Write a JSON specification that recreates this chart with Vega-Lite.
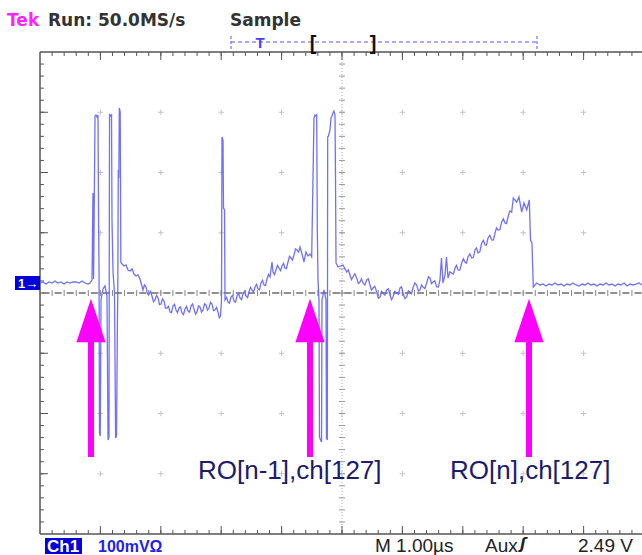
{
"$schema": "https://vega.github.io/schema/vega-lite/v6.json",
"width": 642, "height": 555, "padding": 0, "autosize": {"type": "none"},
"background": "white",
"config": {"view": {"stroke": null}},
"data": {"values": [{}]},
"datasets": {
"minorT": [{"t":0.2},{"t":0.4},{"t":0.6},{"t":0.8},{"t":1},{"t":1.2},{"t":1.4},{"t":1.6},{"t":1.8},{"t":2},{"t":2.2},{"t":2.4},{"t":2.6},{"t":2.8},{"t":3},{"t":3.2},{"t":3.4},{"t":3.6},{"t":3.8},{"t":4},{"t":4.2},{"t":4.4},{"t":4.6},{"t":4.8},{"t":5},{"t":5.2},{"t":5.4},{"t":5.6},{"t":5.8},{"t":6},{"t":6.2},{"t":6.4},{"t":6.6},{"t":6.8},{"t":7},{"t":7.2},{"t":7.4},{"t":7.6},{"t":7.8},{"t":8},{"t":8.2},{"t":8.4},{"t":8.6},{"t":8.8},{"t":9},{"t":9.2},{"t":9.4},{"t":9.6},{"t":9.8}],
"majorT": [{"t":1},{"t":2},{"t":3},{"t":4},{"t":5},{"t":6},{"t":7},{"t":8},{"t":9}],
"minorV": [{"v":-3.8},{"v":-3.6},{"v":-3.4},{"v":-3.2},{"v":-3},{"v":-2.8},{"v":-2.6},{"v":-2.4},{"v":-2.2},{"v":-2},{"v":-1.8},{"v":-1.6},{"v":-1.4},{"v":-1.2},{"v":-1},{"v":-0.8},{"v":-0.6},{"v":-0.4},{"v":-0.2},{"v":0},{"v":0.2},{"v":0.4},{"v":0.6},{"v":0.8},{"v":1},{"v":1.2},{"v":1.4},{"v":1.6},{"v":1.8},{"v":2},{"v":2.2},{"v":2.4},{"v":2.6},{"v":2.8},{"v":3},{"v":3.2},{"v":3.4},{"v":3.6},{"v":3.8}],
"majorV": [{"v":-3},{"v":-2},{"v":-1},{"v":1},{"v":2},{"v":3}],
"grid": [{"t":1,"v":[-3,-2,-1,0,1,2,3]},{"t":2,"v":[-3,-2,-1,0,1,2,3]},{"t":3,"v":[-3,-2,-1,0,1,2,3]},{"t":4,"v":[-3,-2,-1,0,1,2,3]},{"t":5,"v":[-3,-2,-1,0,1,2,3]},{"t":6,"v":[-3,-2,-1,0,1,2,3]},{"t":7,"v":[-3,-2,-1,0,1,2,3]},{"t":8,"v":[-3,-2,-1,0,1,2,3]},{"t":9,"v":[-3,-2,-1,0,1,2,3]}],
"wave": [
{"t":0.000,"v":0.166},{"t":0.050,"v":0.183},{"t":0.099,"v":0.149},{"t":0.149,"v":0.183},{"t":0.199,"v":0.166},{"t":0.248,"v":0.199},{"t":0.298,"v":0.166},{"t":0.348,"v":0.183},{"t":0.397,"v":0.149},{"t":0.447,"v":0.183},{"t":0.497,"v":0.166},{"t":0.546,"v":0.183},{"t":0.596,"v":0.183},{"t":0.646,"v":0.166},{"t":0.695,"v":0.199},{"t":0.745,"v":0.166},{"t":0.795,"v":0.149},
{"t":0.828,"v":0.166},{"t":0.861,"v":0.216},{"t":0.877,"v":1.660},{"t":0.887,"v":0.232},{"t":0.911,"v":2.938},{"t":0.927,"v":2.954},{"t":0.944,"v":2.921},{"t":0.960,"v":2.954},{"t":0.970,"v":1.178},{"t":0.977,"v":0.415},{"t":0.985,"v":-2.324},{"t":0.998,"v":-2.373},{"t":1.010,"v":-0.116},{"t":1.043,"v":0.066},{"t":1.076,"v":0.116},{"t":1.109,"v":-0.050},{"t":1.126,"v":-2.440},{"t":1.142,"v":-2.390},{"t":1.151,"v":2.971},{"t":1.167,"v":2.938},{"t":1.184,"v":2.954},{"t":1.192,"v":1.212},{"t":1.209,"v":0.349},{"t":1.233,"v":0.017},{"t":1.252,"v":-2.407},{"t":1.267,"v":-2.373},{"t":1.280,"v":-0.647},{"t":1.288,"v":0.050},{"t":1.296,"v":2.042},{"t":1.305,"v":1.909},{"t":1.313,"v":3.071},{"t":1.328,"v":3.004},{"t":1.338,"v":0.515},{"t":1.358,"v":0.481},{"t":1.391,"v":0.448},{"t":1.424,"v":0.465},{"t":1.457,"v":0.382},{"t":1.490,"v":0.365},{"t":1.523,"v":0.398},{"t":1.556,"v":0.315},{"t":1.589,"v":0.282},{"t":1.622,"v":0.299},{"t":1.656,"v":0.232},
{"t":1.705,"v":0.050},{"t":1.730,"v":0.135},{"t":1.755,"v":0.100},{"t":1.780,"v":-0.018},{"t":1.805,"v":-0.017},{"t":1.830,"v":0.026},{"t":1.854,"v":-0.050},{"t":1.879,"v":-0.143},{"t":1.904,"v":-0.116},{"t":1.929,"v":-0.040},{"t":1.954,"v":-0.083},{"t":1.979,"v":-0.193},{"t":2.003,"v":-0.183},{"t":2.028,"v":-0.098},{"t":2.053,"v":-0.133},{"t":2.078,"v":-0.251},{"t":2.103,"v":-0.249},{"t":2.128,"v":-0.222},{"t":2.152,"v":-0.315},{"t":2.177,"v":-0.326},{"t":2.202,"v":-0.216},{"t":2.227,"v":-0.189},{"t":2.252,"v":-0.282},{"t":2.277,"v":-0.326},{"t":2.301,"v":-0.249},{"t":2.326,"v":-0.231},{"t":2.351,"v":-0.332},{"t":2.376,"v":-0.359},{"t":2.401,"v":-0.266},{"t":2.426,"v":-0.223},{"t":2.450,"v":-0.299},{"t":2.475,"v":-0.318},{"t":2.500,"v":-0.216},{"t":2.525,"v":-0.181},{"t":2.550,"v":-0.266},{"t":2.575,"v":-0.351},{"t":2.599,"v":-0.315},{"t":2.624,"v":-0.214},{"t":2.649,"v":-0.232},{"t":2.674,"v":-0.317},{"t":2.699,"v":-0.282},{"t":2.724,"v":-0.181},{"t":2.748,"v":-0.199},{"t":2.773,"v":-0.284},{"t":2.798,"v":-0.249},{"t":2.823,"v":-0.156},{"t":2.848,"v":-0.183},{"t":2.873,"v":-0.293},{"t":2.897,"v":-0.282},{"t":2.922,"v":-0.239},{"t":2.947,"v":-0.315},{"t":2.968,"v":-0.409},{"t":2.988,"v":-0.382},{"t":3.005,"v":-0.116},{"t":3.013,"v":2.589},{"t":3.030,"v":2.539},{"t":3.038,"v":1.411},{"t":3.055,"v":1.378},{"t":3.063,"v":-0.116},{"t":3.088,"v":-0.073},{"t":3.113,"v":-0.149},{"t":3.138,"v":-0.168},{"t":3.162,"v":-0.066},{"t":3.187,"v":-0.040},{"t":3.212,"v":-0.133},{"t":3.237,"v":-0.152},{"t":3.262,"v":-0.050},{"t":3.287,"v":-0.007},{"t":3.311,"v":-0.083},{"t":3.336,"v":-0.110},{"t":3.361,"v":-0.017},{"t":3.386,"v":0.026},{"t":3.411,"v":-0.050},{"t":3.436,"v":-0.077},{"t":3.460,"v":0.017},{"t":3.485,"v":0.094},{"t":3.510,"v":0.050},{"t":3.535,"v":0.015},{"t":3.560,"v":0.100},{"t":3.585,"v":0.143},{"t":3.609,"v":0.066},{"t":3.634,"v":0.056},{"t":3.659,"v":0.166},{"t":3.684,"v":0.210},{"t":3.709,"v":0.133},{"t":3.734,"v":0.123},{"t":3.758,"v":0.232},{"t":3.783,"v":0.309},{"t":3.808,"v":0.266},{"t":3.841,"v":0.515},{"t":3.858,"v":0.349},{"t":3.883,"v":0.306},{"t":3.907,"v":0.382},{"t":3.932,"v":0.459},{"t":3.957,"v":0.415},{"t":3.982,"v":0.372},{"t":4.007,"v":0.448},{"t":4.032,"v":0.492},{"t":4.056,"v":0.415},{"t":4.081,"v":0.405},{"t":4.106,"v":0.515},{"t":4.131,"v":0.608},{"t":4.156,"v":0.581},{"t":4.181,"v":0.546},{"t":4.205,"v":0.631},{"t":4.230,"v":0.733},{"t":4.255,"v":0.714},{"t":4.280,"v":0.679},{"t":4.305,"v":0.764},{"t":4.338,"v":0.647},{"t":4.371,"v":0.515},{"t":4.404,"v":0.681},{"t":4.437,"v":0.614},{"t":4.470,"v":0.647},{"t":4.498,"v":0.598},
{"t":4.520,"v":1.925},{"t":4.536,"v":2.905},{"t":4.553,"v":2.954},{"t":4.569,"v":2.938},{"t":4.581,"v":2.954},{"t":4.591,"v":1.046},{"t":4.603,"v":0.216},{"t":4.619,"v":-0.116},{"t":4.627,"v":-2.390},{"t":4.644,"v":-2.440},{"t":4.661,"v":-2.473},{"t":4.669,"v":-0.116},{"t":4.702,"v":0.050},{"t":4.735,"v":-0.116},{"t":4.743,"v":-2.407},{"t":4.757,"v":-2.440},{"t":4.763,"v":2.589},{"t":4.776,"v":2.606},{"t":4.801,"v":2.705},{"t":4.818,"v":2.905},{"t":4.834,"v":2.938},{"t":4.856,"v":3.004},{"t":4.867,"v":3.021},{"t":4.884,"v":2.954},{"t":4.892,"v":1.992},{"t":4.901,"v":0.498},{"t":4.934,"v":0.432},
{"t":4.967,"v":0.448},{"t":5.017,"v":0.465},{"t":5.078,"v":0.349},{"t":5.105,"v":0.384},{"t":5.132,"v":0.299},{"t":5.157,"v":0.223},{"t":5.182,"v":0.266},{"t":5.213,"v":0.318},{"t":5.243,"v":0.249},{"t":5.271,"v":0.156},{"t":5.298,"v":0.183},{"t":5.323,"v":0.235},{"t":5.348,"v":0.166},{"t":5.379,"v":0.131},{"t":5.409,"v":0.216},{"t":5.436,"v":0.235},{"t":5.463,"v":0.133},{"t":5.488,"v":0.048},{"t":5.513,"v":0.083},{"t":5.544,"v":0.110},{"t":5.574,"v":0.017},{"t":5.602,"v":-0.085},{"t":5.629,"v":-0.066},{"t":5.654,"v":0.027},{"t":5.679,"v":0},{"t":5.710,"v":-0.035},{"t":5.740,"v":0.050},{"t":5.768,"v":0.069},{"t":5.795,"v":-0.033},{"t":5.820,"v":-0.110},{"t":5.844,"v":-0.066},{"t":5.875,"v":0.027},{"t":5.906,"v":0},{"t":5.933,"v":-0.018},{"t":5.960,"v":0.083},{"t":5.985,"v":0.102},{"t":6.010,"v":0},{"t":6.041,"v":-0.093},{"t":6.071,"v":-0.066},{"t":6.099,"v":0.035},{"t":6.126,"v":0.017},{"t":6.151,"v":-0.010},{"t":6.175,"v":0.083},{"t":6.206,"v":0.168},{"t":6.237,"v":0.133},{"t":6.264,"v":0.032},{"t":6.291,"v":0.050},{"t":6.316,"v":0.135},{"t":6.341,"v":0.100},{"t":6.372,"v":0.073},{"t":6.402,"v":0.166},{"t":6.430,"v":0.268},{"t":6.457,"v":0.249},{"t":6.482,"v":0.156},{"t":6.506,"v":0.183},{"t":6.537,"v":0.202},{"t":6.568,"v":0.100},{"t":6.595,"v":0.098},{"t":6.622,"v":0.216},{"t":6.647,"v":0.581},{"t":6.672,"v":0.166},{"t":6.705,"v":0.299},{"t":6.730,"v":0.598},{"t":6.755,"v":0.249},{"t":6.786,"v":0.351},{"t":6.816,"v":0.332},{"t":6.844,"v":0.314},{"t":6.871,"v":0.415},{"t":6.896,"v":0.459},{"t":6.920,"v":0.382},{"t":6.951,"v":0.380},{"t":6.982,"v":0.498},{"t":7.009,"v":0.567},{"t":7.036,"v":0.515},{"t":7.061,"v":0.497},{"t":7.086,"v":0.598},{"t":7.117,"v":0.650},{"t":7.147,"v":0.581},{"t":7.175,"v":0.588},{"t":7.202,"v":0.714},{"t":7.227,"v":0.749},{"t":7.251,"v":0.664},{"t":7.282,"v":0.687},{"t":7.313,"v":0.830},{"t":7.340,"v":0.874},{"t":7.367,"v":0.797},{"t":7.392,"v":0.795},{"t":7.417,"v":0.913},{"t":7.448,"v":0.957},{"t":7.478,"v":0.880},{"t":7.506,"v":0.878},{"t":7.533,"v":0.996},{"t":7.558,"v":1.081},{"t":7.583,"v":1.046},{"t":7.614,"v":1.052},{"t":7.644,"v":1.178},{"t":7.672,"v":1.230},{"t":7.699,"v":1.162},{"t":7.724,"v":1.152},{"t":7.748,"v":1.261},{"t":7.779,"v":1.363},{"t":7.809,"v":1.344},{"t":7.836,"v":1.577},{"t":7.892,"v":1.510},{"t":7.930,"v":1.593},{"t":7.975,"v":1.344},{"t":8.013,"v":1.494},{"t":8.058,"v":1.378},{"t":8.101,"v":1.544},{"t":8.121,"v":0.880},{"t":8.145,"v":0.830},{"t":8.167,"v":0.100},{"t":8.223,"v":0.166},
{"t":8.278,"v":0.133},{"t":8.328,"v":0.149},{"t":8.377,"v":0.116},{"t":8.427,"v":0.149},{"t":8.477,"v":0.133},{"t":8.526,"v":0.166},{"t":8.576,"v":0.133},{"t":8.626,"v":0.149},{"t":8.675,"v":0.116},{"t":8.725,"v":0.149},{"t":8.775,"v":0.133},{"t":8.824,"v":0.166},{"t":8.874,"v":0.133},{"t":8.924,"v":0.116},{"t":8.973,"v":0.149},{"t":9.023,"v":0.133},{"t":9.073,"v":0.166},{"t":9.122,"v":0.133},{"t":9.172,"v":0.149},{"t":9.222,"v":0.116},{"t":9.272,"v":0.149},{"t":9.321,"v":0.133},{"t":9.371,"v":0.166},{"t":9.421,"v":0.133},{"t":9.470,"v":0.149},{"t":9.520,"v":0.116},{"t":9.570,"v":0.149},{"t":9.619,"v":0.133},{"t":9.669,"v":0.166},{"t":9.719,"v":0.116},{"t":9.768,"v":0.149},{"t":9.818,"v":0.133},{"t":9.868,"v":0.149},{"t":9.917,"v":0.166},{"t":9.967,"v":0.133}
],
"arrows": [{"t":0.844},{"t":4.470},{"t":8.096}],
"labels": [{"t":2.616,"v":-3.087,"label":"RO[n-1],ch[127]"},{"t":6.788,"v":-3.087,"label":"RO[n],ch[127]"}],
"topText": [{"t":0.132,"v":4.432,"label":"Run: 50.0MS/s"},{"t":3.146,"v":4.432,"label":"Sample"}],
"bottomText": [{"t":5.546,"v":-4.299,"label":"M 1.00µs"},{"t":7.367,"v":-4.299,"label":"Aux"},{"t":8.907,"v":-4.299,"label":"2.49 V"}]
},
"layer": [
{"data": {"name": "grid"}, "transform": [{"flatten": ["v"]}],
 "mark": {"type": "point", "shape": "M-1,0L1,0M0,-1L0,1", "size": 30, "filled": false, "stroke": "#c4c4c4", "strokeWidth": 1, "opacity": 1},
 "encoding": {"x": {"field": "t", "type": "quantitative", "axis": null, "scale": {"domain": [-0.6623, 9.9669], "nice": false, "zero": false}},
              "y": {"field": "v", "type": "quantitative", "axis": null, "scale": {"domain": [-4.3485, 4.8631], "nice": false, "zero": false}}}},
{"mark": {"type": "rule", "stroke": "#aaaaaa", "strokeWidth": 1, "strokeDash": [1, 2]},
 "encoding": {"x": {"datum": 5, "axis": null}, "y": {"datum": -4, "axis": null}, "y2": {"datum": 4}}},
{"data": {"name": "minorV"}, "mark": {"type": "rule", "stroke": "#999999", "strokeWidth": 1},
 "encoding": {"x": {"datum": 4.95, "axis": null}, "x2": {"datum": 5.05}, "y": {"field": "v", "type": "quantitative", "axis": null}}},
{"mark": {"type": "rule", "stroke": "#222222", "strokeWidth": 1.2, "strokeDash": [7, 5.08], "strokeDashOffset": 9.54},
 "encoding": {"x": {"datum": 0, "axis": null}, "x2": {"datum": 10}, "y": {"datum": 0, "axis": null}}},
{"data": {"name": "minorT"}, "mark": {"type": "rule", "stroke": "#888888", "strokeWidth": 1},
 "encoding": {"x": {"field": "t", "type": "quantitative", "axis": null}, "y": {"datum": -0.05, "axis": null}, "y2": {"datum": 0.05}}},
{"mark": {"type": "rule", "stroke": "#555555", "strokeWidth": 1.5},
 "encoding": {"x": {"datum": 0, "axis": null}, "y": {"datum": -4, "axis": null}, "y2": {"datum": 4}}},
{"mark": {"type": "rule", "stroke": "#555555", "strokeWidth": 1.5},
 "encoding": {"x": {"datum": 0, "axis": null}, "x2": {"datum": 10}, "y": {"datum": 4, "axis": null}}},
{"mark": {"type": "rule", "stroke": "#555555", "strokeWidth": 1.5},
 "encoding": {"x": {"datum": 0, "axis": null}, "x2": {"datum": 10}, "y": {"datum": -4, "axis": null}}},
{"data": {"name": "minorT"}, "mark": {"type": "rule", "stroke": "#555555", "strokeWidth": 1},
 "encoding": {"x": {"field": "t", "type": "quantitative", "axis": null}, "y": {"datum": 4, "axis": null}, "y2": {"datum": 3.934}}},
{"data": {"name": "minorT"}, "mark": {"type": "rule", "stroke": "#555555", "strokeWidth": 1},
 "encoding": {"x": {"field": "t", "type": "quantitative", "axis": null}, "y": {"datum": -4, "axis": null}, "y2": {"datum": -3.934}}},
{"data": {"name": "majorT"}, "mark": {"type": "rule", "stroke": "#555555", "strokeWidth": 1},
 "encoding": {"x": {"field": "t", "type": "quantitative", "axis": null}, "y": {"datum": 4, "axis": null}, "y2": {"datum": 3.867}}},
{"data": {"name": "majorT"}, "mark": {"type": "rule", "stroke": "#555555", "strokeWidth": 1},
 "encoding": {"x": {"field": "t", "type": "quantitative", "axis": null}, "y": {"datum": -4, "axis": null}, "y2": {"datum": -3.867}}},
{"data": {"name": "minorV"}, "mark": {"type": "rule", "stroke": "#555555", "strokeWidth": 1},
 "encoding": {"x": {"datum": 0, "axis": null}, "x2": {"datum": 0.066}, "y": {"field": "v", "type": "quantitative", "axis": null}}},
{"data": {"name": "majorV"}, "mark": {"type": "rule", "stroke": "#555555", "strokeWidth": 1},
 "encoding": {"x": {"datum": 0, "axis": null}, "x2": {"datum": 0.132}, "y": {"field": "v", "type": "quantitative", "axis": null}}},
{"data": {"name": "wave"}, "mark": {"type": "line", "stroke": "#6060ff", "strokeWidth": 1.3, "opacity": 0.9},
 "encoding": {"x": {"field": "t", "type": "quantitative", "axis": null}, "y": {"field": "v", "type": "quantitative", "axis": null}}},
{"data": {"name": "arrows"}, "mark": {"type": "rule", "stroke": "#ff00ff", "strokeWidth": 6},
 "encoding": {"x": {"field": "t", "type": "quantitative", "axis": null}, "y": {"datum": -0.813, "axis": null}, "y2": {"datum": -2.722}}},
{"data": {"name": "arrows"}, "mark": {"type": "point", "shape": "M0,-1L0.67,1L-0.67,1Z", "size": 1900, "filled": true, "fill": "#ff00ff", "strokeWidth": 0, "opacity": 1},
 "encoding": {"x": {"field": "t", "type": "quantitative", "axis": null}, "y": {"datum": -0.456, "axis": null}}},
{"data": {"name": "labels"}, "mark": {"type": "text", "align": "left", "baseline": "alphabetic", "font": "Liberation Sans", "fontSize": 26, "fill": "#1c1c6b"},
 "encoding": {"x": {"field": "t", "type": "quantitative", "axis": null}, "y": {"field": "v", "type": "quantitative", "axis": null}, "text": {"field": "label"}}},
{"mark": {"type": "text", "align": "left", "baseline": "alphabetic", "font": "DejaVu Sans", "fontSize": 17, "fontWeight": "bold", "fill": "#ff22ff", "text": "Tek"},
 "encoding": {"x": {"datum": -0.546, "axis": null}, "y": {"datum": 4.432, "axis": null}}},
{"data": {"name": "topText"}, "mark": {"type": "text", "align": "left", "baseline": "alphabetic", "font": "DejaVu Sans", "fontSize": 17, "fontWeight": "bold", "fill": "#333333"},
 "encoding": {"x": {"field": "t", "type": "quantitative", "axis": null}, "y": {"field": "v", "type": "quantitative", "axis": null}, "text": {"field": "label"}}},
{"mark": {"type": "rule", "stroke": "#5555ff", "strokeWidth": 1, "strokeDash": [4, 3]},
 "encoding": {"x": {"datum": 3.162, "axis": null}, "x2": {"datum": 8.228}, "y": {"datum": 4.166, "axis": null}}},
{"mark": {"type": "rule", "stroke": "#5555ff", "strokeWidth": 1, "strokeDash": [3, 2]},
 "encoding": {"x": {"datum": 3.162, "axis": null}, "y": {"datum": 4.05, "axis": null}, "y2": {"datum": 4.299}}},
{"mark": {"type": "rule", "stroke": "#5555ff", "strokeWidth": 1, "strokeDash": [3, 2]},
 "encoding": {"x": {"datum": 8.228, "axis": null}, "y": {"datum": 4.05, "axis": null}, "y2": {"datum": 4.299}}},
{"mark": {"type": "text", "align": "center", "baseline": "alphabetic", "font": "Liberation Sans", "fontSize": 15, "fontWeight": "bold", "fill": "#4444ff", "text": "T"},
 "encoding": {"x": {"datum": 3.642, "axis": null}, "y": {"datum": 4.066, "axis": null}}},
{"mark": {"type": "text", "align": "center", "baseline": "alphabetic", "font": "Liberation Sans", "fontSize": 20, "fontWeight": "bold", "fill": "#111111", "text": "["},
 "encoding": {"x": {"datum": 4.520, "axis": null}, "y": {"datum": 4.033, "axis": null}}},
{"mark": {"type": "text", "align": "center", "baseline": "alphabetic", "font": "Liberation Sans", "fontSize": 20, "fontWeight": "bold", "fill": "#111111", "text": "]"},
 "encoding": {"x": {"datum": 5.513, "axis": null}, "y": {"datum": 4.033, "axis": null}}},
{"mark": {"type": "rect", "fill": "#0000dd"},
 "encoding": {"x": {"datum": 0.083, "axis": null}, "x2": {"datum": 0.695}, "y": {"datum": -4.067, "axis": null}, "y2": {"datum": -4.332}}},
{"mark": {"type": "text", "align": "left", "baseline": "alphabetic", "font": "Liberation Sans", "fontSize": 17, "fontWeight": "bold", "fill": "white", "text": "Ch1"},
 "encoding": {"x": {"datum": 0.116, "axis": null}, "y": {"datum": -4.299, "axis": null}}},
{"mark": {"type": "text", "align": "left", "baseline": "alphabetic", "font": "Liberation Sans", "fontSize": 16, "fontWeight": "bold", "fill": "#2222ee", "text": "100mVΩ"},
 "encoding": {"x": {"datum": 0.960, "axis": null}, "y": {"datum": -4.299, "axis": null}}},
{"data": {"name": "bottomText"}, "mark": {"type": "text", "align": "left", "baseline": "alphabetic", "font": "Liberation Sans", "fontSize": 19, "fill": "#222222"},
 "encoding": {"x": {"field": "t", "type": "quantitative", "axis": null}, "y": {"field": "v", "type": "quantitative", "axis": null}, "text": {"field": "label"}}},
{"mark": {"type": "text", "align": "left", "baseline": "middle", "font": "DejaVu Sans", "fontSize": 15, "fontWeight": "bold", "fontStyle": "italic", "fill": "#222222", "text": "ʃ"},
 "encoding": {"x": {"datum": 7.947, "axis": null}, "y": {"datum": -4.17, "axis": null}}},
{"mark": {"type": "rect", "fill": "#0000dd"},
 "encoding": {"x": {"datum": -0.414, "axis": null}, "x2": {"datum": 0}, "y": {"datum": 0.282, "axis": null}, "y2": {"datum": 0.05}}},
{"mark": {"type": "text", "align": "left", "baseline": "alphabetic", "font": "Liberation Sans", "fontSize": 13, "fontWeight": "bold", "fill": "white", "text": "1→"},
 "encoding": {"x": {"datum": -0.364, "axis": null}, "y": {"datum": 0.083, "axis": null}}}
]
}
